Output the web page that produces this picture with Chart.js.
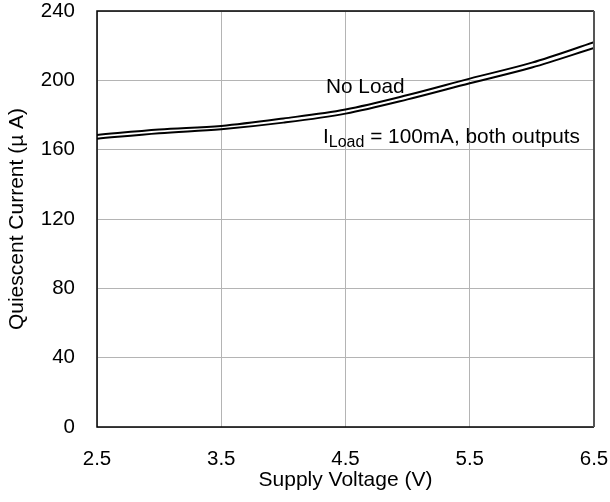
<!DOCTYPE html>
<html>
<head>
<meta charset="utf-8">
<script src="https://cdn.jsdelivr.net/npm/chart.js@4.4.1/dist/chart.umd.min.js"></script>
<style>
	html, body { margin: 0; padding: 0; background: #fff; }
	#wrap { width: 610px; height: 502px; }
</style>
</head>
<body>
<div id="wrap"><canvas id="chart" width="610" height="502"></canvas></div>
<script>
'use strict';

const voltage = [2.5, 3, 3.5, 4, 4.5, 5, 5.5, 6, 6.5];
const noLoad = [168.5, 171.6, 173.7, 178, 183.2, 191.5, 201, 210.2, 222];
const fullLoad = [166.3, 169.5, 171.8, 175.6, 180.8, 189, 198.3, 207.4, 218.7];
const xTicks = [2.5, 3.5, 4.5, 5.5, 6.5];
const yTicks = [0, 40, 80, 120, 160, 200, 240];

const fontFamily = "'Liberation Sans', Arial, sans-serif";

function toPoints(ys) {
	return voltage.map((v, i) => ({ x: v, y: ys[i] }));
}

function noOverhang(scale) {
	scale.paddingTop = 0;
	scale.paddingBottom = 0;
	scale.paddingLeft = 0;
	scale.paddingRight = 0;
}

// plot frame + the two curve labels
const annotations = {
	id: 'annotations',
	afterDraw(chart) {
		const { ctx, chartArea: a } = chart;
		ctx.save();
		ctx.lineWidth = 1.5;
		ctx.strokeStyle = '#000';
		ctx.beginPath();
		ctx.moveTo(a.right, a.top);
		ctx.lineTo(a.left, a.top);
		ctx.lineTo(a.left, a.bottom);
		ctx.lineTo(a.right, a.bottom);
		ctx.stroke();
		ctx.strokeStyle = '#555';
		ctx.lineWidth = 2;
		ctx.beginPath();
		ctx.moveTo(a.right, a.top);
		ctx.lineTo(a.right, a.bottom);
		ctx.stroke();

		ctx.fillStyle = '#000';
		ctx.textBaseline = 'alphabetic';
		ctx.font = '20.8px ' + fontFamily;
		ctx.fillText('No Load', 326, 93);

		let x = 323;
		const y = 143;
		ctx.fillText('I', x, y);
		x += ctx.measureText('I').width;
		ctx.font = '16px ' + fontFamily;
		ctx.fillText('Load', x, y + 4);
		x += ctx.measureText('Load').width;
		ctx.font = '20.8px ' + fontFamily;
		ctx.fillText(' = 100mA, both outputs', x, y);
		ctx.restore();
	}
};

new Chart(document.getElementById('chart'), {
	type: 'line',
	data: {
		datasets: [{
			label: 'No Load',
			data: toPoints(noLoad),
			borderColor: '#000',
			borderWidth: 2,
			pointRadius: 0,
			cubicInterpolationMode: 'monotone',
			fill: false
		}, {
			label: 'ILoad = 100mA, both outputs',
			data: toPoints(fullLoad),
			borderColor: '#000',
			borderWidth: 2,
			pointRadius: 0,
			cubicInterpolationMode: 'monotone',
			fill: false
		}]
	},
	options: {
		responsive: false,
		animation: false,
		layout: { padding: { top: 11, right: 16, left: 0, bottom: 0 } },
		plugins: {
			legend: { display: false },
			tooltip: { enabled: false }
		},
		scales: {
			x: {
				type: 'linear',
				min: 2.5,
				max: 6.5,
				afterBuildTicks: (scale) => { scale.ticks = xTicks.map(v => ({ value: v })); },
				afterFit: (scale) => { scale.height = 75; noOverhang(scale); },
				grid: { color: '#b4b4b4', lineWidth: 1, drawTicks: false },
				border: { display: false },
				ticks: {
					color: '#000',
					padding: 20,
					maxRotation: 0,
					font: { family: fontFamily, size: 20.5 },
					callback: (v) => v.toFixed(1)
				},
				title: {
					display: true,
					text: 'Supply Voltage (V)',
					color: '#000',
					padding: { top: 0, bottom: 9 },
					font: { family: fontFamily, size: 21 }
				}
			},
			y: {
				min: 0,
				max: 240,
				afterBuildTicks: (scale) => { scale.ticks = yTicks.map(v => ({ value: v })); },
				afterFit: (scale) => { scale.width = 97; noOverhang(scale); },
				grid: { color: '#b4b4b4', lineWidth: 1, drawTicks: false },
				border: { display: false },
				ticks: {
					color: '#000',
					padding: 22,
					font: { family: fontFamily, size: 20.5 }
				},
				title: {
					display: true,
					text: 'Quiescent Current (µ A)',
					color: '#000',
					padding: { top: 5, bottom: 0 },
					font: { family: fontFamily, size: 21 }
				}
			}
		}
	},
	plugins: [annotations]
});
</script>
</body>
</html>
